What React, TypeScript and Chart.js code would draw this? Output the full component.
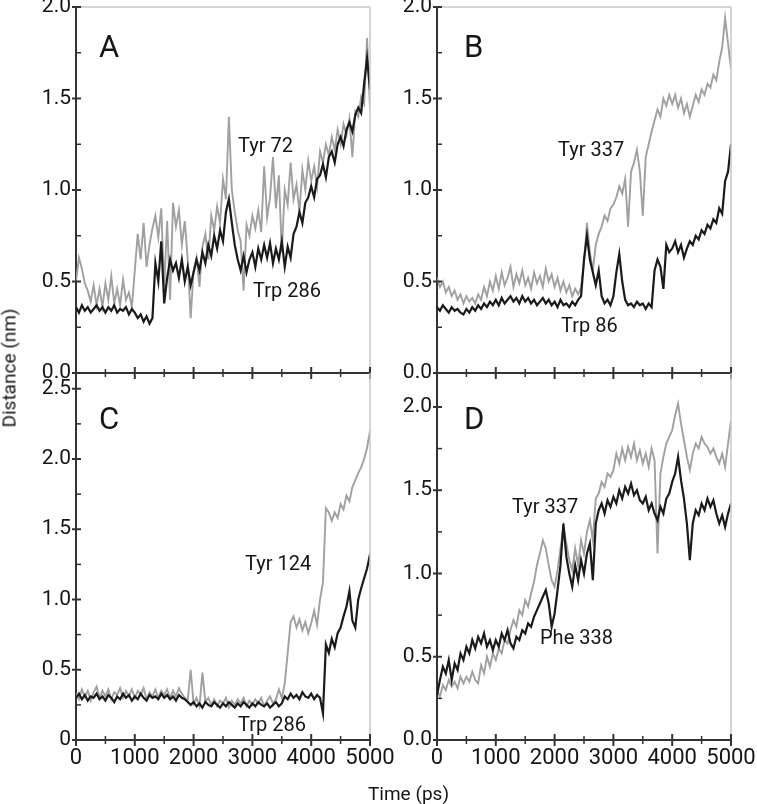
import React, { useEffect, useRef } from "react";
import { Chart, registerables } from "chart.js";

Chart.register(...registerables);

// ---------- data (ps, nm) ----------
const TIME: number[] = Array.from({ length: 101 }, (_, i) => i * 50);
const X_TICKS = [0, 500, 1000, 1500, 2000, 2500, 3000, 3500, 4000, 4500, 5000];
const Y_TICKS_AB = [0, 0.25, 0.5, 0.75, 1, 1.25, 1.5, 1.75, 2];
const Y_TICKS_C = [0, 0.25, 0.5, 0.75, 1, 1.25, 1.5, 1.75, 2, 2.25, 2.5];
const Y_TICKS_D = [0, 0.25, 0.5, 0.75, 1, 1.25, 1.5, 1.75, 2];

// Panel A
const A_TRP286 = [
  0.36, 0.33, 0.37, 0.34, 0.36, 0.33, 0.35, 0.37, 0.34, 0.36,
  0.33, 0.36, 0.34, 0.37, 0.33, 0.35, 0.34, 0.36, 0.32, 0.35,
  0.33, 0.30, 0.32, 0.28, 0.31, 0.27, 0.30, 0.60, 0.50, 0.72,
  0.38, 0.52, 0.62, 0.56, 0.60, 0.52, 0.62, 0.50, 0.58, 0.48,
  0.55, 0.62, 0.56, 0.66, 0.60, 0.70, 0.64, 0.75, 0.68, 0.78,
  0.72, 0.88, 0.95, 0.82, 0.70, 0.62, 0.56, 0.64, 0.55, 0.62,
  0.66, 0.58, 0.68, 0.62, 0.70, 0.63, 0.71, 0.60, 0.68, 0.62,
  0.72, 0.58, 0.69, 0.63, 0.76, 0.80, 0.88, 0.82, 0.93, 0.96,
  1.02, 0.96, 1.06, 1.08, 1.14, 1.07, 1.18, 1.21, 1.15, 1.25,
  1.29, 1.24, 1.33, 1.37, 1.32, 1.41, 1.45, 1.42, 1.58, 1.72,
  1.55,
];
const A_TYR72 = [
  0.50, 0.63, 0.57, 0.49, 0.45, 0.39, 0.48, 0.37, 0.46, 0.36,
  0.49, 0.40, 0.53, 0.38, 0.46, 0.37, 0.51, 0.40, 0.44, 0.36,
  0.56, 0.76, 0.62, 0.82, 0.58, 0.70, 0.79, 0.86, 0.74, 0.90,
  0.47, 0.83, 0.40, 0.93, 0.80, 0.89, 0.70, 0.83, 0.62, 0.30,
  0.56, 0.63, 0.47, 0.69, 0.76, 0.62, 0.86, 0.78, 0.91, 0.82,
  1.06, 0.95, 1.40, 1.00, 0.88, 0.78, 0.72, 0.45, 0.81, 0.75,
  0.86, 0.79, 0.89, 0.77, 1.13, 0.85, 0.96, 1.18, 0.90, 1.08,
  0.66, 1.00, 0.92, 1.15, 0.95, 1.03, 0.88, 1.11, 1.00, 1.16,
  1.05, 1.13, 1.02, 1.21, 1.15, 1.25, 1.19, 1.29, 1.22, 1.33,
  1.25, 1.36, 1.30, 1.39, 1.18, 1.43, 1.40, 1.51, 1.47, 1.83,
  1.45,
];

// Panel B
const B_TRP86 = [
  0.36, 0.34, 0.37, 0.35, 0.33, 0.36, 0.34, 0.35, 0.33, 0.32,
  0.35, 0.33, 0.36, 0.34, 0.37, 0.35, 0.38, 0.36, 0.39, 0.37,
  0.40, 0.37, 0.41, 0.38, 0.40, 0.42, 0.39, 0.41, 0.38, 0.42,
  0.39, 0.41, 0.38, 0.40, 0.37, 0.39, 0.41, 0.38, 0.40, 0.37,
  0.39, 0.36, 0.40, 0.37, 0.38, 0.36, 0.39, 0.37, 0.40, 0.42,
  0.62, 0.75, 0.62, 0.55, 0.48, 0.56, 0.42, 0.38, 0.40, 0.37,
  0.42, 0.55, 0.65, 0.50, 0.40, 0.37, 0.38, 0.36, 0.39, 0.37,
  0.38, 0.35, 0.38, 0.36, 0.56, 0.62, 0.58, 0.46, 0.70, 0.66,
  0.68, 0.72, 0.66, 0.70, 0.63, 0.68, 0.72, 0.70, 0.75, 0.73,
  0.78, 0.76, 0.81, 0.79, 0.84, 0.82, 0.90, 0.87, 1.05, 1.10,
  1.25,
];
const B_TYR337 = [
  0.52, 0.47, 0.50, 0.44, 0.47, 0.42, 0.45, 0.40, 0.43, 0.38,
  0.42, 0.39, 0.41, 0.38, 0.43, 0.40, 0.47, 0.42, 0.50, 0.45,
  0.53, 0.46, 0.55, 0.48, 0.52, 0.58, 0.47, 0.54, 0.49, 0.56,
  0.48, 0.52, 0.46, 0.55, 0.49, 0.53, 0.47, 0.57, 0.50, 0.54,
  0.47, 0.52, 0.45, 0.50, 0.44, 0.48, 0.42, 0.46, 0.43, 0.47,
  0.60, 0.82, 0.66, 0.56, 0.70, 0.76, 0.80, 0.86, 0.83, 0.90,
  0.92, 0.96, 1.02, 0.98, 1.06, 0.80, 1.10, 1.15, 1.22, 1.10,
  0.86, 1.18, 1.25, 1.32, 1.38, 1.44, 1.40, 1.50, 1.46, 1.52,
  1.47, 1.52, 1.45, 1.50, 1.42, 1.47, 1.40, 1.46, 1.52, 1.48,
  1.55, 1.52, 1.58, 1.56, 1.63, 1.60, 1.70, 1.78, 1.94, 1.80,
  1.66,
];

// Panel C
const C_TRP286 = [
  0.30, 0.33, 0.29, 0.32, 0.28, 0.31, 0.30, 0.33, 0.29, 0.31,
  0.28, 0.32, 0.30, 0.27, 0.31, 0.29, 0.33, 0.30, 0.32, 0.28,
  0.31, 0.29, 0.33, 0.30, 0.28, 0.32, 0.30, 0.31, 0.29, 0.33,
  0.30, 0.32, 0.29, 0.31, 0.28, 0.32, 0.30, 0.29, 0.27, 0.25,
  0.27, 0.24, 0.26, 0.23, 0.27, 0.25, 0.24, 0.27, 0.25, 0.23,
  0.26, 0.24, 0.27, 0.25, 0.23, 0.26, 0.24, 0.27, 0.25, 0.23,
  0.26, 0.24, 0.27, 0.25, 0.24, 0.26, 0.23, 0.25, 0.27, 0.24,
  0.26, 0.31, 0.29, 0.33, 0.30, 0.32, 0.29, 0.34, 0.31, 0.30,
  0.33, 0.29, 0.32, 0.30, 0.19, 0.68, 0.62, 0.72, 0.66, 0.76,
  0.80, 0.88, 0.95, 1.06, 0.85, 0.80, 1.00, 1.08, 1.15, 1.22,
  1.32,
];
const C_TYR124 = [
  0.33, 0.29, 0.36, 0.31, 0.35, 0.28, 0.34, 0.38, 0.30, 0.35,
  0.31, 0.36, 0.29, 0.34, 0.32, 0.37, 0.30, 0.35, 0.31, 0.36,
  0.30, 0.35, 0.32, 0.37, 0.29, 0.34, 0.31, 0.36, 0.30, 0.35,
  0.32, 0.36, 0.30, 0.35, 0.31, 0.37, 0.33, 0.30, 0.28, 0.50,
  0.26, 0.30, 0.24, 0.48, 0.27, 0.30, 0.25, 0.29, 0.24, 0.28,
  0.26, 0.30, 0.23, 0.28, 0.25, 0.29, 0.26, 0.30, 0.24, 0.28,
  0.25, 0.29, 0.26, 0.30, 0.24, 0.28, 0.31, 0.26, 0.29, 0.36,
  0.30, 0.40, 0.62, 0.84, 0.88, 0.80, 0.86, 0.78, 0.84, 0.76,
  0.83, 0.92, 0.82, 1.00, 1.12, 1.65, 1.62, 1.56, 1.62, 1.58,
  1.68, 1.64, 1.74, 1.70, 1.80, 1.85, 1.90, 1.94, 2.00, 2.08,
  2.20,
];

// Panel D
const D_PHE338 = [
  0.27, 0.36, 0.44, 0.40, 0.48, 0.36, 0.46, 0.42, 0.52, 0.48,
  0.56, 0.52, 0.60, 0.55, 0.62, 0.58, 0.64, 0.56, 0.60, 0.54,
  0.60, 0.56, 0.64, 0.60, 0.66, 0.58, 0.55, 0.62, 0.60, 0.66,
  0.64, 0.70, 0.68, 0.74, 0.78, 0.82, 0.86, 0.90, 0.82, 0.68,
  0.76, 0.90, 1.05, 1.30, 1.10, 1.00, 0.92, 1.05, 0.96, 1.08,
  1.00, 1.12, 1.18, 0.96, 1.30, 1.38, 1.42, 1.36, 1.44, 1.40,
  1.46, 1.42, 1.50, 1.45, 1.52, 1.48, 1.54, 1.47, 1.50, 1.44,
  1.42, 1.46, 1.38, 1.42, 1.36, 1.32, 1.40, 1.36, 1.45, 1.48,
  1.55, 1.60, 1.70, 1.56, 1.45, 1.30, 1.08, 1.30, 1.38, 1.35,
  1.42, 1.38, 1.45, 1.40, 1.44, 1.36, 1.30, 1.35, 1.28, 1.36,
  1.42,
];
const D_TYR337 = [
  0.30, 0.26, 0.33, 0.30, 0.36, 0.32, 0.35, 0.31, 0.38, 0.34,
  0.38, 0.35, 0.41, 0.36, 0.34, 0.45, 0.40, 0.50, 0.44, 0.52,
  0.48, 0.55, 0.52, 0.60, 0.58, 0.66, 0.72, 0.68, 0.78, 0.75,
  0.84, 0.80, 0.88, 0.95, 1.05, 1.12, 1.20, 1.15, 1.05, 0.96,
  0.92, 1.02, 1.15, 1.28, 1.18, 1.08, 1.02, 1.15, 1.05, 1.20,
  1.12, 1.25, 1.32, 1.20, 1.45, 1.48, 1.55, 1.52, 1.60, 1.58,
  1.62, 1.72, 1.66, 1.75, 1.68, 1.76, 1.70, 1.78, 1.68, 1.74,
  1.66, 1.72, 1.64, 1.75, 1.68, 1.12, 1.60, 1.70, 1.78, 1.82,
  1.86, 1.95, 2.02, 1.90, 1.80, 1.70, 1.62, 1.72, 1.78, 1.75,
  1.82, 1.78, 1.76, 1.72, 1.75, 1.70, 1.66, 1.72, 1.64, 1.78,
  1.92,
];

const FONT = 'Roboto, "DejaVu Sans", sans-serif';
const INK = "#151515";
const DARK_LINE = "#1a1a1a";
const GRAY_LINE = "#a0a0a0";

const framePlugin = {
  id: "frame",
  afterDraw(chart: any, _args: any, opts: any) {
    const { ctx, chartArea } = chart;
    const { left, right, top, bottom } = chartArea;
    const x = chart.scales.x;
    const y = chart.scales.y;
    ctx.save();
    ctx.strokeStyle = "#c6c6c6";
    ctx.lineWidth = 1.5;
    ctx.beginPath();
    if (opts.top) {
      ctx.moveTo(left, top);
      ctx.lineTo(right, top);
    }
    ctx.moveTo(right, top);
    ctx.lineTo(right, bottom);
    ctx.stroke();

    ctx.strokeStyle = "#333";
    for (const t of x.ticks) {
      const px = x.getPixelForValue(t.value);
      const major = t.value % 1000 === 0;
      const l = major ? 6 : 4;
      ctx.lineWidth = major ? 2 : 1.5;
      ctx.beginPath();
      ctx.moveTo(px, bottom - l);
      ctx.lineTo(px, bottom + l);
      ctx.stroke();
    }
    for (const t of y.ticks) {
      const py = y.getPixelForValue(t.value);
      const major = Math.abs(t.value * 2 - Math.round(t.value * 2)) < 1e-6;
      ctx.lineWidth = major ? 2 : 1.5;
      ctx.beginPath();
      ctx.moveTo(major ? left - 4 : left, py);
      ctx.lineTo(left + 5, py);
      ctx.stroke();
    }
    ctx.restore();
  },
};

type PanelProps = {
  left: number;
  top: number;
  width: number;
  height: number;
  padTop: number;
  padRight: number;
  xHeight: number;
  showX: boolean;
  yMax: number;
  yTicks: number[];
  yLabel: (v: number) => string;
  dark: number[];
  gray: number[];
  drawTop: boolean;
};

function Panel(p: PanelProps) {
  const ref = useRef<HTMLCanvasElement>(null);
  useEffect(() => {
    const chart = new Chart(ref.current as HTMLCanvasElement, {
      type: "line",
      data: {
        datasets: [
          {
            data: p.dark.map((v, i) => ({ x: TIME[i], y: v })),
            borderColor: DARK_LINE,
            borderWidth: 2.2,
            pointRadius: 0,
            tension: 0,
            order: 0,
          },
          {
            data: p.gray.map((v, i) => ({ x: TIME[i], y: v })),
            borderColor: GRAY_LINE,
            borderWidth: 1.9,
            pointRadius: 0,
            tension: 0,
            order: 1,
          },
        ],
      },
      options: {
        animation: false,
        responsive: false,
        devicePixelRatio: 1,
        events: [],
        layout: { padding: { top: p.padTop, right: p.padRight, left: 0, bottom: 0 } },
        plugins: {
          legend: { display: false },
          tooltip: { enabled: false },
          frame: { top: p.drawTop },
        } as any,
        scales: {
          x: {
            type: "linear",
            min: 0,
            max: 5000,
            grid: { display: false, drawTicks: false },
            border: { display: true, color: "#333", width: 2 },
            ticks: {
              display: p.showX,
              autoSkip: false,
              maxRotation: 0,
              padding: 5,
              color: INK,
              font: { family: FONT, size: 22 },
              callback: (v: any) => (Number(v) % 1000 === 0 ? String(v) : ""),
            },
            afterBuildTicks: (s: any) => {
              s.ticks = X_TICKS.map((v) => ({ value: v }));
            },
            afterFit: (s: any) => {
              s.height = p.xHeight;
              s.paddingLeft = 0;
              s.paddingRight = 0;
            },
          },
          y: {
            type: "linear",
            min: 0,
            max: p.yMax,
            grid: { display: false, drawTicks: false },
            border: { display: true, color: "#333", width: 2 },
            ticks: {
              autoSkip: false,
              padding: 5,
              color: INK,
              font: { family: FONT, size: 21 },
              callback: (v: any) => p.yLabel(Number(v)),
            },
            afterBuildTicks: (s: any) => {
              s.ticks = p.yTicks.map((v) => ({ value: v }));
            },
            afterFit: (s: any) => {
              s.width = 76;
              s.paddingTop = 0;
              s.paddingBottom = 0;
            },
          },
        },
      } as any,
      plugins: [framePlugin as any],
    });
    return () => chart.destroy();
  }, []);
  return (
    <canvas
      ref={ref}
      width={p.width}
      height={p.height}
      style={{ position: "absolute", left: p.left, top: p.top, width: p.width, height: p.height }}
    />
  );
}

const isHalf = (v: number) => Math.abs(v * 2 - Math.round(v * 2)) < 1e-6;
const labelOne = (v: number) => (isHalf(v) ? v.toFixed(1) : "");
const labelC = (v: number) => (v === 0 ? "0" : isHalf(v) ? v.toFixed(1) : "");

const textStyle = (left: number, top: number, size: number): React.CSSProperties => ({
  position: "absolute",
  left,
  top,
  fontFamily: FONT,
  fontSize: size,
  lineHeight: 1,
  color: INK,
  whiteSpace: "nowrap",
});

export default function App() {
  return (
    <div style={{ position: "absolute", left: 0, top: 0, width: 757, height: 804, background: "#fff", overflow: "hidden" }}>
      <Panel left={0} top={0} width={380} height={385} padTop={7} padRight={10} xHeight={12} showX={false}
        yMax={2} yTicks={Y_TICKS_AB} yLabel={labelOne} dark={A_TRP286} gray={A_TYR72} drawTop={true} />
      <Panel left={361} top={0} width={396} height={385} padTop={7} padRight={26} xHeight={12} showX={false}
        yMax={2} yTicks={Y_TICKS_AB} yLabel={labelOne} dark={B_TRP86} gray={B_TYR337} drawTop={true} />
      <Panel left={0} top={373} width={410} height={431} padTop={0} padRight={40} xHeight={64} showX={true}
        yMax={2.612} yTicks={Y_TICKS_C} yLabel={labelC} dark={C_TRP286} gray={C_TYR124} drawTop={false} />
      <Panel left={361} top={373} width={396} height={431} padTop={0} padRight={26} xHeight={64} showX={true}
        yMax={2.204} yTicks={Y_TICKS_D} yLabel={labelOne} dark={D_PHE338} gray={D_TYR337} drawTop={false} />

      <div style={textStyle(99, 31, 31)}>A</div>
      <div style={textStyle(464, 31, 31)}>B</div>
      <div style={textStyle(99, 403, 31)}>C</div>
      <div style={textStyle(464, 403, 31)}>D</div>

      <div style={textStyle(238, 135, 20)}>Tyr 72</div>
      <div style={textStyle(253, 280, 20)}>Trp 286</div>
      <div style={textStyle(558, 139, 20)}>Tyr 337</div>
      <div style={textStyle(561, 315, 20)}>Trp 86</div>
      <div style={textStyle(245, 553, 20)}>Tyr 124</div>
      <div style={textStyle(238, 714, 20)}>Trp 286</div>
      <div style={textStyle(512, 496, 20)}>Tyr 337</div>
      <div style={textStyle(540, 627, 20)}>Phe 338</div>

      <div style={textStyle(368, 784, 19)}>Time (ps)</div>
      <div
        style={{
          position: "absolute",
          left: 9,
          top: 368,
          transform: "translate(-50%, -50%) rotate(-90deg)",
          fontFamily: FONT,
          fontSize: 19,
          lineHeight: 1,
          color: INK,
          whiteSpace: "nowrap",
        }}
      >
        Distance (nm)
      </div>
    </div>
  );
}
